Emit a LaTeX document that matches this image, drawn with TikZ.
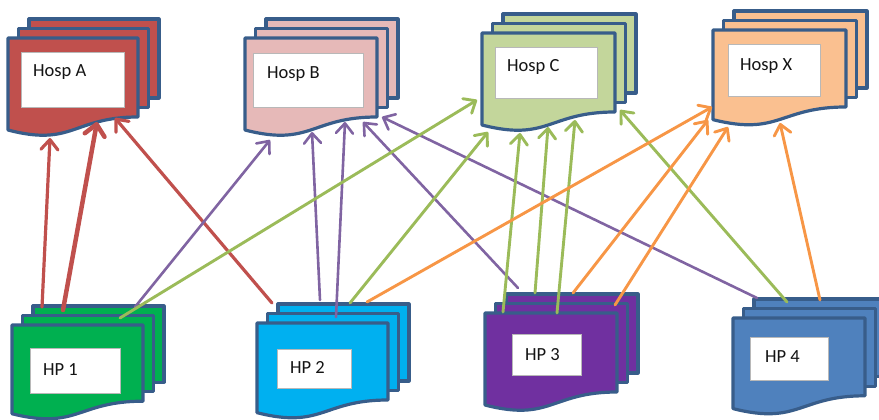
\documentclass[tikz,border=0pt]{standalone}
\usepackage{fontspec}
\setmainfont{Carlito}
\usetikzlibrary{arrows.meta}
\definecolor{outl}{HTML}{385D8A}
\definecolor{cA}{HTML}{C0504D}
\definecolor{cB}{HTML}{E6B9B8}
\definecolor{cC}{HTML}{C3D69B}
\definecolor{cX}{HTML}{FAC090}
\definecolor{cH1}{HTML}{00B050}
\definecolor{cH2}{HTML}{00B0F0}
\definecolor{cH3}{HTML}{7030A0}
\definecolor{cH4}{HTML}{4F81BD}
\definecolor{aRed}{HTML}{C0504D}
\definecolor{aPur}{HTML}{8064A2}
\definecolor{aGrn}{HTML}{9BBB59}
\definecolor{aOra}{HTML}{F79646}
\definecolor{txt}{HTML}{141414}
% #1 L, #2 T, #3 w, #4 h, #5 fill
\newcommand{\mdocshape}[5]{%
  \foreach \k in {2,1}{%
    \draw[docline, fill=#5] ({#1+10.5*\k},{#2-9.5*\k}) rectangle ++(#3,{0.802*#4});
  }
  \draw[docline, fill=#5] (#1,#2) -- ({#1+#3},#2) -- ({#1+#3},{#2+0.802*#4})
    .. controls ({#1+#3/2},{#2+0.802*#4}) and ({#1+#3/2},{#2+1.107*#4}) ..
    (#1,{#2+0.934*#4}) -- cycle;
}
\begin{document}
\begin{tikzpicture}[x=1pt,y=-1pt,
  docline/.style={draw=outl, line width=3.2pt, line join=round},
  wbox/.style={fill=white, draw=black!28, line width=1pt, inner sep=0pt, anchor=north west},
  lbl/.style={font=\fontsize{18.5}{20}\selectfont, text=txt, inner sep=0pt, anchor=base west},
  arr/.style={line width=2.6pt, line cap=round, line join=round, -{Straight Barb[length=10pt,width=17pt,line join=round,line cap=round]}},
  arrthick/.style={line width=4.5pt, line cap=round, -{Straight Barb[length=11pt,width=20pt,line join=round,line cap=round]}}]
\useasboundingbox (0,0) rectangle (879,420);
% hospital documents
\mdocshape{8}{38}{130}{98.5}{cA}
\mdocshape{245}{38}{132}{98.5}{cB}
\mdocshape{482}{33}{133}{98.5}{cC}
\mdocshape{713}{30}{133}{96}{cX}
% HP documents
\mdocshape{12}{325}{131}{95}{cH1}
\mdocshape{257}{323}{131}{96}{cH2}
\mdocshape{485}{313}{132}{98.5}{cH3}
\mdocshape{733}{318}{132}{97}{cH4}
% white boxes and labels
\node[wbox, minimum width=103pt, minimum height=55pt] (hAbox) at (21,52) {};
\node[wbox, minimum width=110pt, minimum height=54pt] (hBbox) at (253,53) {};
\node[wbox, minimum width=102pt, minimum height=51pt] (hCbox) at (495,47) {};
\node[wbox, minimum width=92pt, minimum height=52pt] (hXbox) at (728,44) {};
\node[wbox, minimum width=90pt, minimum height=45pt] (p1box) at (30,348) {};
\node[wbox, minimum width=74pt, minimum height=39pt] (p2box) at (277,349) {};
\node[wbox, minimum width=69pt, minimum height=41pt] (p3box) at (512,334) {};
\node[wbox, minimum width=78pt, minimum height=43pt] (p4box) at (750,337) {};
\node[lbl] (hA) at (33,77) {Hosp A};
\node[lbl] (hB) at (267,78) {Hosp B};
\node[lbl] (hC) at (507,71.5) {Hosp C};
\node[lbl] (hX) at (740,70.5) {Hosp X};
\node[lbl] (p1) at (43,375) {HP 1};
\node[lbl] (p2) at (290,373) {HP 2};
\node[lbl] (p3) at (525,360.5) {HP 3};
\node[lbl] (p4) at (765,362.5) {HP 4};
% connector end points
\coordinate (s1) at (42,307);  \coordinate (e1) at (50,138);
\coordinate (s2) at (63,310);  \coordinate (e2) at (97,122);
\coordinate (s3) at (272,303); \coordinate (e3) at (115,118);
\coordinate (s4) at (135,307); \coordinate (e4) at (270,140);
\coordinate (s5) at (320,300); \coordinate (e5) at (312,132);
\coordinate (s6) at (336,317); \coordinate (e6) at (345,122);
\coordinate (s7) at (518,288); \coordinate (e7) at (363,122);
\coordinate (s8) at (757,298); \coordinate (e8) at (382,117);
\coordinate (s9) at (120,318); \coordinate (e9) at (477,100);
\coordinate (s10) at (350,303); \coordinate (e10) at (488,132);
\coordinate (s11) at (503,312); \coordinate (e11) at (520,133);
\coordinate (s12) at (535,293); \coordinate (e12) at (548,127);
\coordinate (s13) at (557,313); \coordinate (e13) at (575,120);
\coordinate (s14) at (787,302); \coordinate (e14) at (620,110);
\coordinate (s15) at (367,302); \coordinate (e15) at (712,107);
\coordinate (s16) at (573,293); \coordinate (e16) at (708,120);
\coordinate (s17) at (615,305); \coordinate (e17) at (728,127);
\coordinate (s18) at (820,300); \coordinate (e18) at (780,123);
% connectors
\draw[arr, aRed, line width=3.2pt] (s1) -- (e1);
\draw[arrthick, aRed] (s2) -- (e2);
\draw[arr, aRed, line width=3.2pt] (s3) -- (e3);
\foreach \i in {4,5,6,7,8} \draw[arr, aPur] (s\i) -- (e\i);
\foreach \i in {9,10,11,12,13,14} \draw[arr, aGrn, line width=2.9pt] (s\i) -- (e\i);
\foreach \i in {15,16,17,18} \draw[arr, aOra, line width=2.9pt] (s\i) -- (e\i);
\end{tikzpicture}
\end{document}
